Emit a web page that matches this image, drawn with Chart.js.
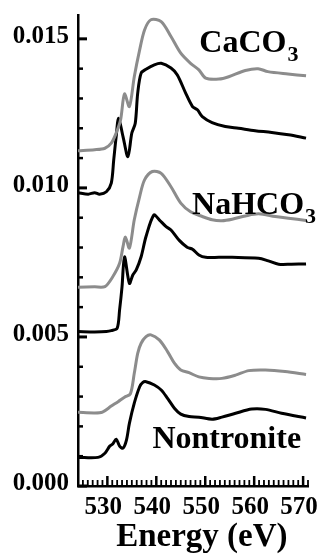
<!DOCTYPE html>
<html>
<head>
<meta charset="utf-8">
<script src="https://cdn.jsdelivr.net/npm/chart.js@4.4.1/dist/chart.umd.min.js"></script>
<style>
html,body{margin:0;padding:0;background:#fff;}
canvas{display:block;}
</style>
</head>
<body>
<canvas id="chart" width="326" height="554"></canvas>
<script>

// axis ticks
const xTicks = [530, 540, 550, 560, 570];
const yTicks = [0.000, 0.005, 0.010, 0.015];

// CaCO3
const caco3GrayE = [524.0, 527.4, 529.5, 530.8, 531.8, 532.7, 533.5, 534.5, 535.5, 536.6, 537.6, 538.9, 541.0, 543.0, 545.0, 547.0, 548.7, 550.1, 552.8, 554.8, 558.2, 560.8, 562.8, 566.9, 570.6];
const caco3Gray = [0.01125, 0.01128, 0.01133, 0.01150, 0.01184, 0.01228, 0.01315, 0.01273, 0.01373, 0.01463, 0.01530, 0.01564, 0.01558, 0.01508, 0.01452, 0.01418, 0.01396, 0.01368, 0.01365, 0.01373, 0.01394, 0.01400, 0.01390, 0.01382, 0.01376];
const caco3BlackE = [524.0, 526.1, 527.4, 528.4, 529.8, 530.8, 531.3, 531.8, 532.3, 533.2, 534.2, 535.0, 535.7, 536.2, 536.9, 537.9, 539.6, 541.0, 543.0, 544.3, 546.0, 547.4, 548.4, 549.4, 551.4, 554.1, 556.8, 560.2, 563.6, 567.0, 570.6];
const caco3Black = [0.00984, 0.00979, 0.00984, 0.00979, 0.00987, 0.01016, 0.01094, 0.01172, 0.01234, 0.01172, 0.01105, 0.01184, 0.01217, 0.01318, 0.01385, 0.01398, 0.01413, 0.01418, 0.01402, 0.01379, 0.01318, 0.01273, 0.01262, 0.01239, 0.01219, 0.01206, 0.01200, 0.01192, 0.01186, 0.01178, 0.01167];

// NaHCO3
const nahco3GrayE = [524.0, 527.4, 529.5, 531.1, 532.5, 533.2, 533.7, 534.5, 535.5, 536.6, 537.6, 539.2, 541.0, 543.0, 545.0, 547.0, 549.4, 551.4, 553.4, 555.5, 558.2, 560.9, 564.3, 567.0, 570.6];
const nahco3Gray = [0.00667, 0.00668, 0.00669, 0.00702, 0.00747, 0.00803, 0.00835, 0.00798, 0.00893, 0.00971, 0.01027, 0.01055, 0.01049, 0.01004, 0.00949, 0.00920, 0.00904, 0.00893, 0.00890, 0.00895, 0.00906, 0.00913, 0.00904, 0.00898, 0.00891];
const nahco3BlackE = [524.0, 527.4, 529.8, 530.8, 532.0, 532.5, 533.0, 533.5, 534.5, 535.2, 535.9, 536.9, 537.9, 539.5, 540.6, 542.0, 543.0, 544.7, 546.3, 547.4, 548.7, 550.1, 552.8, 555.5, 560.9, 562.9, 565.0, 567.6, 570.6];
const nahco3Black = [0.00518, 0.00517, 0.00518, 0.00521, 0.00529, 0.00591, 0.00669, 0.00769, 0.00680, 0.00708, 0.00725, 0.00769, 0.00837, 0.00909, 0.00893, 0.00870, 0.00859, 0.00824, 0.00801, 0.00794, 0.00775, 0.00767, 0.00767, 0.00767, 0.00764, 0.00755, 0.00744, 0.00744, 0.00745];

// Nontronite
const nontGrayE = [524.0, 527.4, 529.0, 530.8, 532.2, 533.5, 534.7, 535.5, 536.2, 536.9, 537.9, 538.9, 540.6, 542.3, 543.7, 545.0, 546.7, 548.7, 550.8, 553.4, 556.2, 558.9, 562.3, 566.3, 570.6];
const nontGray = [0.00247, 0.00245, 0.00248, 0.00268, 0.00283, 0.00298, 0.00309, 0.00378, 0.00445, 0.00479, 0.00501, 0.00507, 0.00490, 0.00451, 0.00412, 0.00389, 0.00380, 0.00366, 0.00361, 0.00361, 0.00372, 0.00387, 0.00389, 0.00384, 0.00374];
const nontBlackE = [524.0, 528.1, 529.5, 530.5, 531.1, 531.8, 532.5, 533.2, 533.9, 534.5, 535.5, 536.6, 537.2, 537.9, 539.6, 541.0, 542.3, 543.7, 545.0, 546.7, 548.7, 551.4, 553.4, 556.2, 559.5, 562.3, 565.6, 570.6];
const nontBlack = [0.00096, 0.00096, 0.00110, 0.00134, 0.00141, 0.00157, 0.00134, 0.00127, 0.00154, 0.00210, 0.00278, 0.00333, 0.00347, 0.00350, 0.00339, 0.00322, 0.00294, 0.00261, 0.00241, 0.00233, 0.00231, 0.00224, 0.00231, 0.00244, 0.00258, 0.00257, 0.00244, 0.00228];

// sample names, placed in data units
const sampleNames = [
  {name: 'CaCO', sub: '3', e: 548.8, v: 0.01456},
  {name: 'NaHCO', sub: '3', e: 547.3, v: 0.00913},
  {name: 'Nontronite', sub: '', e: 539.2, v: 0.00128}
];
const xTitle = 'Energy (eV)';

const GRAY = '#8c8c8c';
const SERIF = '"Liberation Serif", "Times New Roman", serif';

function pts(es, vs) {
  return es.map((e, i) => ({x: e, y: vs[i]}));
}

function line(es, vs, color) {
  return {
    data: pts(es, vs),
    borderColor: color,
    borderWidth: 3,
    pointRadius: 0,
    fill: false,
    tension: 0.3
  };
}

// inward ticks, sample names, axis title
const decor = {
  id: 'decor',
  afterDraw(chart) {
    const {ctx, chartArea, scales: {x, y}} = chart;
    ctx.save();
    ctx.strokeStyle = '#000';
    for (let e = Math.ceil(x.min); e <= x.max; e++) {
      const px = x.getPixelForValue(e);
      const major = xTicks.includes(e);
      ctx.lineWidth = major ? 2.5 : 1.8;
      ctx.beginPath();
      ctx.moveTo(px, chartArea.bottom);
      ctx.lineTo(px, chartArea.bottom - (major ? 10 : 6));
      ctx.stroke();
    }
    for (let i = 0; i * 0.001 <= y.max; i++) {
      const py = y.getPixelForValue(i * 0.001);
      const major = i % 5 === 0;
      ctx.lineWidth = major ? 3 : 2.5;
      ctx.beginPath();
      ctx.moveTo(chartArea.left, py);
      ctx.lineTo(chartArea.left + (major ? 9 : 5), py);
      ctx.stroke();
    }

    ctx.fillStyle = '#000';
    ctx.textBaseline = 'alphabetic';
    ctx.textAlign = 'left';
    sampleNames.forEach(s => {
      const px = x.getPixelForValue(s.e);
      const py = y.getPixelForValue(s.v);
      ctx.font = 'bold 32px ' + SERIF;
      ctx.fillText(s.name, px, py);
      if (s.sub) {
        const w = ctx.measureText(s.name).width;
        ctx.font = 'bold 22px ' + SERIF;
        ctx.fillText(s.sub, px + w + 1, py + 9);
      }
    });

    // x title, a bit right of the plot centre like the original
    ctx.font = 'bold 33px ' + SERIF;
    ctx.textAlign = 'center';
    ctx.textBaseline = 'middle';
    ctx.fillText(xTitle, x.getPixelForValue(549.3), chart.height - 17);
    ctx.restore();
  }
};

const ctx = document.getElementById('chart').getContext('2d');

const chart = new Chart(ctx, {
  type: 'line',
  data: {
    datasets: [
      line(caco3GrayE, caco3Gray, GRAY),
      line(caco3BlackE, caco3Black, '#000'),
      line(nahco3GrayE, nahco3Gray, GRAY),
      line(nahco3BlackE, nahco3Black, '#000'),
      line(nontGrayE, nontGray, GRAY),
      line(nontBlackE, nontBlack, '#000')
    ]
  },
  options: {
    responsive: false,
    animation: false,
    layout: {padding: {left: 0, right: 18, top: 15, bottom: 0}},
    plugins: {legend: {display: false}, tooltip: {enabled: false}},
    scales: {
      x: {
        type: 'linear',
        min: 524,
        max: 571,
        afterBuildTicks: s => { s.ticks = xTicks.map(v => ({value: v})); },
        afterFit: s => { s.height = 68; s.paddingLeft = 0; s.paddingRight = 0; },
        grid: {display: true, drawOnChartArea: false, drawTicks: false},
        border: {display: true, color: '#000', width: 2.5},
        ticks: {
          color: '#000',
          padding: 7,
          labelOffset: -4,
          maxRotation: 0,
          font: {family: SERIF, size: 25, weight: 'bold'},
          callback: v => String(v)
        },
        title: {display: false}
      },
      y: {
        type: 'linear',
        min: 0,
        max: 0.0158,
        afterBuildTicks: s => { s.ticks = yTicks.map(v => ({value: v})); },
        afterFit: s => { s.width = 78; s.paddingTop = 0; s.paddingBottom = 0; },
        grid: {display: true, drawOnChartArea: false, drawTicks: false},
        border: {display: true, color: '#000', width: 2.5},
        ticks: {
          color: '#000',
          padding: 9,
          labelOffset: -2,
          font: {family: SERIF, size: 25, weight: 'bold'},
          callback: v => v.toFixed(3)
        }
      }
    }
  },
  plugins: [decor]
});

</script>
</body>
</html>
